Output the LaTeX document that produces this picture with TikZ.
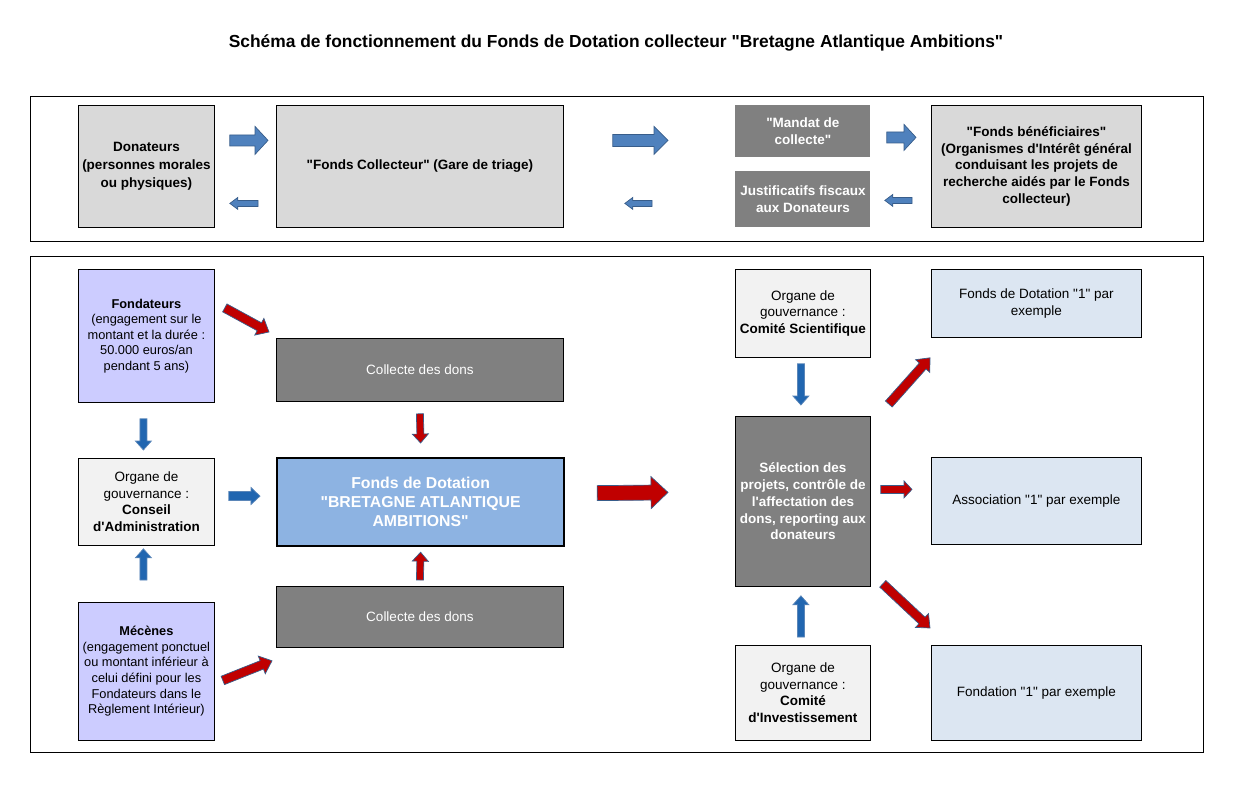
\documentclass[tikz,border=0pt]{standalone}
\usepackage{fontspec}
\setmainfont{Liberation Sans}[Ligatures=TeXOff]
\usetikzlibrary{calc}

\definecolor{cellgray}{HTML}{D9D9D9}
\definecolor{darkcell}{HTML}{808080}
\definecolor{founder}{HTML}{CCCCFF}
\definecolor{palecell}{HTML}{F2F2F2}
\definecolor{benefcell}{HTML}{DCE6F2}
\definecolor{fundblue}{HTML}{8DB3E2}
\definecolor{topblue}{HTML}{4F81BD}
\definecolor{topline}{HTML}{385D8A}
\definecolor{lowblue}{HTML}{2166B0}
\definecolor{lowline}{HTML}{5B86B8}
\definecolor{flowred}{HTML}{C00000}

\tikzset{
  cell/.style={draw=black, line width=0.8pt, anchor=north west, inner sep=1pt,
    align=center, font=\fontsize{13.5}{16.5}\selectfont},
  smallcell/.style={cell, font=\fontsize{12.8}{15.6}\selectfont},
  darkcell/.style={cell, fill=darkcell, text=white},
  topflow/.style={fill=topblue, draw=topline, line width=0.7pt},
  lowflow/.style={fill=lowblue, draw=lowline, line width=0.7pt},
  redflow/.style={fill=flowred, draw=topline, line width=0.7pt},
}

% block arrow: style, from, to, half shaft, half head, head length
\newcommand\flow[6]{%
  \coordinate (f-s) at (#2);
  \coordinate (f-e) at (#3);
  \coordinate (f-h) at ($(f-e)!#6!(f-s)$);
  \filldraw[#1] ($(f-s)!#4!90:(f-e)$) -- ($(f-h)!#4!90:(f-e)$) -- ($(f-h)!#5!90:(f-e)$)
    -- (f-e) -- ($(f-h)!#5!-90:(f-e)$) -- ($(f-h)!#4!-90:(f-e)$) -- ($(f-s)!#4!-90:(f-e)$) -- cycle;}

\begin{document}
\begin{tikzpicture}[x=1pt, y=-1pt]
    \useasboundingbox (0,0) rectangle (1236,806);

    % Title
    \node[font=\fontsize{17.4}{20}\selectfont\bfseries] (title) at (616,43)
        {Schéma de fonctionnement du Fonds de Dotation collecteur "Bretagne Atlantique Ambitions"};

    % Two frames
    \draw[line width=0.8pt] (30,96) rectangle (1203,241);
    \draw[line width=0.8pt] (30,256) rectangle (1203,752);

    % Top row: donors, collecting fund, mandate, beneficiaries
    \node[cell, fill=cellgray, minimum width=136, minimum height=122, font=\fontsize{13.5}{18}\selectfont\bfseries] (don) at (78,105)
        {Donateurs\\(personnes morales\\ou physiques)};
    \node[cell, fill=cellgray, minimum width=287, minimum height=122, font=\fontsize{13.5}{18}\selectfont\bfseries] (fc) at (276,105)
        {"Fonds Collecteur" (Gare de triage)};
    \node[darkcell, draw=none, minimum width=135, minimum height=52, font=\fontsize{13.5}{17}\selectfont\bfseries] (mandat) at (735,105)
        {"Mandat de\\collecte"};
    \node[darkcell, draw=none, minimum width=135, minimum height=56, font=\fontsize{13.5}{17}\selectfont\bfseries] (justif) at (735,171)
        {Justificatifs fiscaux\\aux Donateurs};
    \node[cell, fill=cellgray, minimum width=210, minimum height=122, font=\fontsize{13.5}{16.8}\selectfont\bfseries] (fb) at (931,105)
        {"Fonds bénéficiaires"\\(Organismes d'Intérêt général\\conduisant les projets de\\recherche aidés par le Fonds\\collecteur)};

    % Top row arrows
    \flow{topflow}{$(don.east)+(15,-26)$}{$(fc.west)+(-8,-26)$}{5.5pt}{14pt}{13pt}
    \flow{topflow}{$(fc.west)+(-18,37)$}{$(don.east)+(15,37)$}{3pt}{6pt}{8pt}
    \flow{topflow}{$(fc.east)+(49,-26)$}{$(mandat.west)+(-67,9)$}{6pt}{14pt}{14pt}
    \flow{topflow}{$(justif.west)+(-83,4)$}{$(fc.east)+(61,37)$}{3pt}{6pt}{8pt}
    \flow{topflow}{$(mandat.east)+(16,6)$}{$(fb.west)+(-15,-29)$}{5.5pt}{13pt}{12pt}
    \flow{topflow}{$(fb.west)+(-19,34)$}{$(justif.east)+(14,1)$}{3pt}{6pt}{8pt}

    % Left column: founders, board, patrons
    \node[smallcell, fill=founder, minimum width=136, minimum height=133] (fondateurs) at (78,269)
        {\textbf{Fondateurs}\\(engagement sur le\\montant et la durée :\\50.000 euros/an\\pendant 5 ans)};
    \node[cell, fill=palecell, minimum width=136, minimum height=87] (ca) at (78,458)
        {Organe de\\gouvernance :\\\textbf{Conseil}\\\textbf{d'Administration}};
    \node[smallcell, fill=founder, minimum width=136, minimum height=138] (mecenes) at (78,602)
        {\textbf{Mécènes}\\(engagement ponctuel\\ou montant inférieur à\\celui défini pour les\\Fondateurs dans le\\Règlement Intérieur)};

    % Middle column: collections and the endowment fund
    \node[darkcell, minimum width=287, minimum height=63] (collA) at (276,338) {Collecte des dons};
    \node[cell, fill=fundblue, text=white, line width=2.2pt, minimum width=287, minimum height=88,
        font=\fontsize{15.8}{19}\selectfont\bfseries] (fdd) at (276,457)
        {Fonds de Dotation\\"BRETAGNE ATLANTIQUE\\AMBITIONS"};
    \node[darkcell, minimum width=287, minimum height=61] (collB) at (276,586) {Collecte des dons};

    % Right columns: committees, selection, beneficiaries
    \node[cell, fill=palecell, minimum width=135, minimum height=88] (cs) at (735,269)
        {Organe de\\gouvernance :\\\textbf{Comité Scientifique}};
    \node[darkcell, minimum width=135, minimum height=170, font=\fontsize{13.5}{16.8}\selectfont\bfseries] (sel) at (735,416)
        {Sélection des\\projets, contrôle de\\l'affectation des\\dons, reporting aux\\donateurs};
    \node[cell, fill=palecell, minimum width=135, minimum height=95] (ci) at (735,645)
        {Organe de\\gouvernance :\\\textbf{Comité}\\\textbf{d'Investissement}};
    \node[cell, fill=benefcell, minimum width=210, minimum height=68] (fd1) at (931,269)
        {Fonds de Dotation "1" par\\exemple};
    \node[cell, fill=benefcell, minimum width=210, minimum height=87] (asso) at (931,457)
        {Association "1" par exemple};
    \node[cell, fill=benefcell, minimum width=210, minimum height=95] (fondation) at (931,645)
        {Fondation "1" par exemple};

    % Bottom part arrows
    \flow{redflow}{$(fondateurs.east)+(10,-28)$}{$(collA.north west)+(-7,-6)$}{4.5pt}{9.5pt}{11pt}
    \flow{lowflow}{$(fondateurs.south)+(-3,16)$}{$(ca.north)+(-3,-8)$}{3.5pt}{8pt}{9pt}
    \flow{redflow}{$(collA.south)+(0,12)$}{$(fdd.north)+(0,-14)$}{3.5pt}{8pt}{9pt}
    \flow{lowflow}{$(ca.east)+(14,-6)$}{$(fdd.west)+(-16,-6)$}{4.5pt}{8.5pt}{9pt}
    \flow{redflow}{$(fdd.east)+(32,-9)$}{$(sel.west)+(-67,-9)$}{7.5pt}{16pt}{17pt}
    \flow{lowflow}{$(mecenes.north)+(-3,-22)$}{$(ca.south)+(-3,3)$}{3.5pt}{8pt}{9pt}
    \flow{redflow}{$(collB.north)+(0,-6)$}{$(fdd.south)+(0,5)$}{3.5pt}{8pt}{9pt}
    \flow{redflow}{$(mecenes.east)+(8,9)$}{$(collB.south west)+(-4,13)$}{4.5pt}{9.5pt}{11pt}
    \flow{lowflow}{$(cs.south)+(-2,6)$}{$(sel.north)+(-2,-11)$}{3.5pt}{8pt}{9pt}
    \flow{redflow}{$(sel.north east)+(18,-12)$}{$(fd1.south west)+(-1,20)$}{4.5pt}{9.5pt}{11pt}
    \flow{redflow}{$(sel.east)+(10,-12)$}{$(asso.west)+(-19,-11.5)$}{4pt}{8.5pt}{8pt}
    \flow{redflow}{$(sel.south east)+(12,-3)$}{$(fondation.north west)+(-1,-17)$}{4.5pt}{9.5pt}{11pt}
    \flow{lowflow}{$(ci.north)+(-2,-8)$}{$(sel.south)+(-2,9)$}{3.5pt}{8pt}{9pt}
\end{tikzpicture}
\end{document}
